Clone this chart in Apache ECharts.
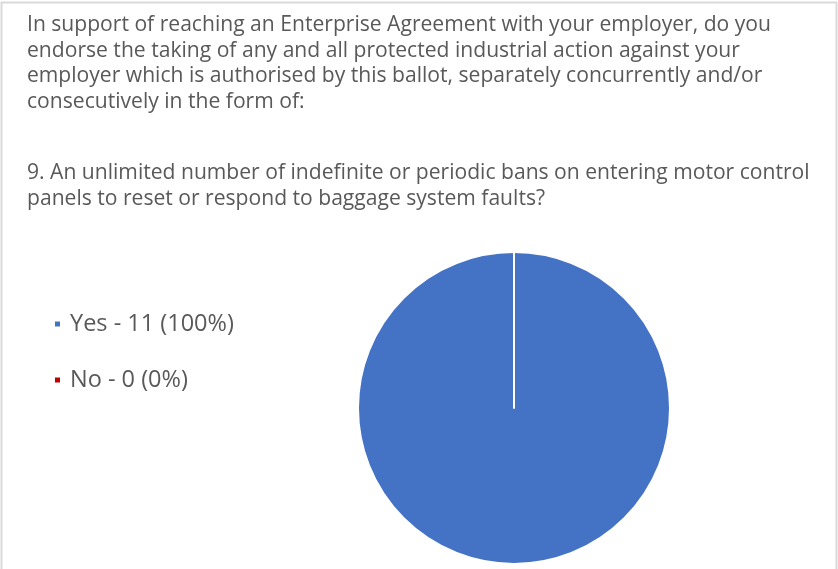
<!DOCTYPE html>
<html>
<head>
<meta charset="utf-8">
<script src="https://cdn.jsdelivr.net/npm/echarts@6/dist/echarts.min.js"></script>
<style>
  html, body { margin: 0; padding: 0; background: #fff; }
  #chart { width: 838px; height: 569px; }
</style>
</head>
<body>
<div id="chart"></div>
<script>
// data
const categories = ['Yes', 'No'];
const counts = [11, 0];
const colors = ['#4472C4', '#C00000'];
const question = [
  'In support of reaching an Enterprise Agreement with your employer, do you',
  'endorse the taking of any and all protected industrial action against your',
  'employer which is authorised by this ballot, separately concurrently and/or',
  'consecutively in the form of:'
];
const subQuestion = [
  '9. An unlimited number of indefinite or periodic bans on entering motor control',
  'panels to reset or respond to baggage system faults?'
];

const total = counts.reduce((a, b) => a + b, 0);
const legendText = {};
categories.forEach((c, i) => {
  legendText[c] = c + ' - ' + counts[i] + ' (' + Math.round(counts[i] / total * 100) + '%)';
});

const titleFont = { fontFamily: 'Open Sans', fontSize: 21.1, fontWeight: 'normal', color: '#595959', lineHeight: 25.7 };

let chart = echarts.init(document.getElementById('chart'));
chart.setOption({
  backgroundColor: '#fff',
  animation: false,
  title: [
    { text: question.join('\n'), left: 22, top: 7, textStyle: titleFont },
    { text: subQuestion.join('\n'), left: 22, top: 155, textStyle: titleFont }
  ],
  graphic: [{
    type: 'rect',
    shape: { x: 1.5, y: 2.5, width: 835, height: 580 },
    style: { fill: 'none', stroke: '#d9d9d9', lineWidth: 2 },
    silent: true
  }],
  legend: {
    orient: 'vertical',
    left: 48,
    top: 307,
    icon: 'rect',
    itemWidth: 7,
    itemHeight: 7,
    itemGap: 32,
    data: categories,
    formatter: name => legendText[name],
    textStyle: { fontFamily: 'Open Sans', fontSize: 23.5, color: '#595959', padding: [0, 0, 0, 4] }
  },
  series: [{
    type: 'pie',
    center: [514, 408],
    radius: 156,
    startAngle: 90,
    label: { show: false },
    labelLine: { show: false },
    emphasis: { disabled: true },
    itemStyle: { borderColor: '#fff', borderWidth: 2 },
    data: categories.map((c, i) => ({ name: c, value: counts[i], itemStyle: { color: colors[i] } }))
  }]
});
</script>
</body>
</html>
